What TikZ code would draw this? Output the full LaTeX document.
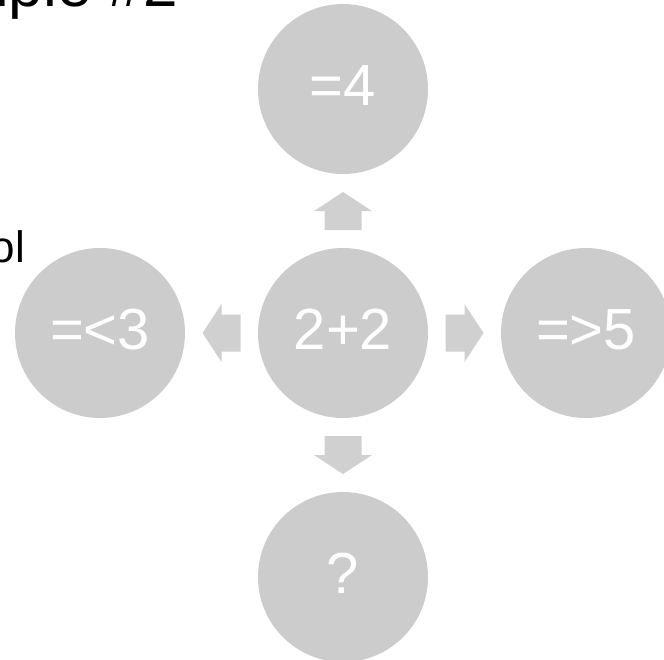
\documentclass[tikz,border=0pt]{standalone}
\usepackage{fontspec}
\setmainfont{Liberation Sans}
\usetikzlibrary{calc}

\definecolor{bubblegray}{HTML}{CCCCCC}
\definecolor{arrowgray}{HTML}{D0D0D0}

\tikzset{
  bubble/.style={circle, fill=bubblegray, draw=none, inner sep=0pt,
    minimum size=170pt, text=white,
    font=\fontsize{58}{60}\selectfont, text height=42pt, text depth=9pt},
  blockarrow/.pic={
    \fill[arrowgray] (-19,-18.5) -- (0,-18.5) -- (0,-29) -- (19,0)
      -- (0,29) -- (0,18.5) -- (-19,18.5) -- cycle;
  },
  heading/.style={anchor=base east, inner sep=0pt, text=black},
}

\begin{document}
\begin{tikzpicture}[x=1pt, y=1pt]
  \useasboundingbox (0,0) rectangle (664,-659);
  \clip (0,0) rectangle (664,-659);

  % headings
  \node[heading, font=\fontsize{62}{64}\selectfont] (title) at (178,-6) {Example \#2};
  \node[heading, font=\fontsize{44}{46}\selectfont] (item) at (25,-262) {Symbol};

  % the sum in the middle and its possible results
  \node[bubble] (sum) at (343,-333) {2+2};
  \node[bubble] (up)    at (343,-89)  {=4};
  \node[bubble] (left)  at (100,-333) {=<3};
  \node[bubble] (right) at (586,-333) {=>5};
  \node[bubble] (down)  at (343,-577) {?};

  % block arrows pointing from the sum to each result
  \coordinate (aup)    at ($(sum)!0.5!(up)$);
  \coordinate (aleft)  at ($(sum)!0.5!(left)$);
  \coordinate (aright) at ($(sum)!0.5!(right)$);
  \coordinate (adown)  at ($(sum)!0.5!(down)$);
  \pic[rotate=90]  at (aup)    {blockarrow};
  \pic[rotate=180] at (aleft)  {blockarrow};
  \pic             at (aright) {blockarrow};
  \pic[rotate=-90] at (adown)  {blockarrow};
\end{tikzpicture}
\end{document}
